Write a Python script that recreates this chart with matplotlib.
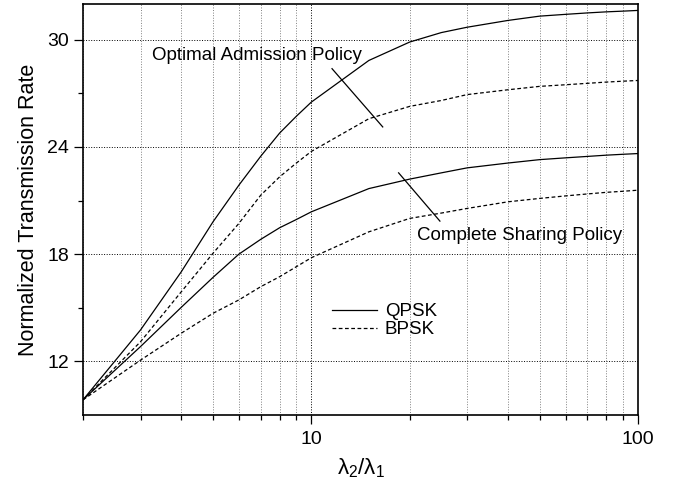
import matplotlib.pyplot as plt
import numpy as np
from matplotlib.ticker import LogLocator, NullFormatter, FixedLocator

plt.rcParams['font.family'] = ['Liberation Sans', 'DejaVu Sans']
plt.rcParams['mathtext.fontset'] = 'custom'
plt.rcParams['mathtext.rm'] = 'Liberation Sans'
plt.rcParams['mathtext.it'] = 'Liberation Sans'

# data
ratio = [2, 3, 4, 5, 6, 7, 8, 9, 10, 15, 20, 25, 30, 40, 50, 60, 70, 80, 90, 100]
opt_qpsk = [9.85, 13.76, 17.02, 19.81, 21.86, 23.48, 24.78, 25.72, 26.51, 28.84,
            29.87, 30.4, 30.7, 31.08, 31.32, 31.42, 31.5, 31.56, 31.6, 31.64]
opt_bpsk = [9.85, 13.1, 15.9, 18.05, 19.72, 21.3, 22.33, 23.1, 23.75, 25.58,
            26.27, 26.6, 26.93, 27.2, 27.39, 27.48, 27.56, 27.63, 27.68, 27.72]
cs_qpsk = [9.85, 12.83, 15.03, 16.7, 18.0, 18.83, 19.48, 19.94, 20.37, 21.67,
           22.2, 22.55, 22.83, 23.1, 23.29, 23.39, 23.47, 23.54, 23.59, 23.63]
cs_bpsk = [9.85, 12.07, 13.58, 14.69, 15.44, 16.18, 16.74, 17.3, 17.8, 19.25,
           20.0, 20.3, 20.56, 20.93, 21.12, 21.26, 21.37, 21.46, 21.52, 21.58]

fig = plt.figure(figsize=(6.76, 4.86), dpi=100)
ax = fig.add_axes([0.1228, 0.1461, 0.821, 0.8457])

ax.plot(ratio, opt_qpsk, color='black', lw=0.9, label='QPSK')
ax.plot(ratio, opt_bpsk, color='black', lw=0.9, ls=(0, (3, 2)), label='BPSK')
ax.plot(ratio, cs_qpsk, color='black', lw=0.9)
ax.plot(ratio, cs_bpsk, color='black', lw=0.9, ls=(0, (3, 2)))

ax.set_xscale('log')
ax.set_xlim(2, 100)
ax.set_ylim(9, 32)

ax.xaxis.set_major_locator(FixedLocator([10, 100]))
ax.set_xticklabels(['10', '100'])
ax.xaxis.set_minor_locator(LogLocator(base=10, subs=np.arange(2, 10)))
ax.xaxis.set_minor_formatter(NullFormatter())
ax.set_yticks([12, 18, 24, 30])
ax.set_yticks([15, 21, 27], minor=True)

ax.tick_params(which='major', direction='out', length=6.5, width=0.9, labelsize=14)
ax.tick_params(which='minor', direction='out', length=3.5, width=0.9)
ax.tick_params(axis='x', which='major', pad=5)
for s in ax.spines.values():
    s.set_linewidth(1.2)

ax.grid(True, which='major', axis='both', ls=':', color='black', lw=0.7)
ax.grid(True, which='minor', axis='x', ls=':', color='gray', lw=0.7)

ax.set_ylabel('Normalized Transmission Rate', fontsize=15.5, labelpad=6)
ax.set_xlabel(r'$\mathregular{\lambda_2/\lambda_1}$', fontsize=16, labelpad=6)

# annotations with leader lines
ax.text(3.25, 29.12, 'Optimal Admission Policy', fontsize=13.5, va='center', ha='left')
ax.plot([11.57, 16.54], [28.38, 25.12], color='black', lw=0.9)
ax.text(21.0, 19.07, 'Complete Sharing Policy', fontsize=13.5, va='center', ha='left')
ax.plot([18.5, 24.75], [22.55, 19.85], color='black', lw=0.9)

ax.legend(loc='center left', bbox_to_anchor=(0.449, 0.229), frameon=False,
          fontsize=13.5, handlelength=2.4, handletextpad=0.4, labelspacing=0.05,
          borderpad=0, borderaxespad=0)

fig.savefig('out.png', dpi=100)
